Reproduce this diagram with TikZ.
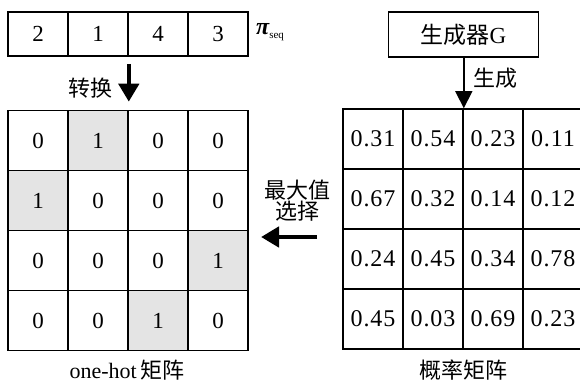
\documentclass[tikz,border=0pt]{standalone}
\usepackage{fontspec}
\setmainfont{Liberation Serif}
\newfontfamily\cjk{Noto Sans CJK SC}
\newfontfamily\numfont[LetterSpace=4]{Liberation Serif}
\usetikzlibrary{arrows.meta,calc}
\definecolor{hot}{HTML}{E4E4E4}
\tikzset{
  box/.style={draw, line width=1.6pt, inner sep=0pt, anchor=center},
  lcell/.style={box, minimum width=60pt, minimum height=60pt, font=\fontsize{23}{23}\selectfont},
  rcell/.style={box, minimum width=60pt, minimum height=60pt, font=\numfont\fontsize{24}{24}\selectfont},
  tcell/.style={box, minimum width=60pt, minimum height=44pt, font=\fontsize{23}{23}\selectfont},
  lbl/.style={inner sep=0pt, font=\fontsize{22}{23}\selectfont\cjk},
  fat/.style={line width=4.5pt, -{Triangle[width=20pt,length=18pt]}},
  thin/.style={line width=1.6pt, -{Triangle[width=17pt,length=17pt]}}
}
\begin{document}
\begin{tikzpicture}[x=1pt,y=-1pt]
\useasboundingbox (0,0) rectangle (580,385);
\fill[white] (0,0) rectangle (580,385);
% top sequence
\foreach \c/\v in {1/2,2/1,3/4,4/3}
  \node[tcell] (t\c) at ({38+60*(\c-1)},34) {\v};
\node[anchor=west, inner sep=0pt] (pi) at (256,32) {{\fontsize{24}{24}\selectfont\bfseries\itshape π}\raisebox{-4pt}{\fontsize{11}{11}\selectfont seq}};
% left one-hot matrix
\foreach \r/\c/\v/\f in {1/1/0/white,1/2/1/hot,1/3/0/white,1/4/0/white,
                         2/1/1/hot,2/2/0/white,2/3/0/white,2/4/0/white,
                         3/1/0/white,3/2/0/white,3/3/0/white,3/4/1/hot,
                         4/1/0/white,4/2/0/white,4/3/1/hot,4/4/0/white}
  \node[lcell, fill=\f] (l\r\c) at ({38+60*(\c-1)},{140.5+60*(\r-1)}) {\v};
% right probability matrix
\foreach \r/\c/\v in {1/1/0.31,1/2/0.54,1/3/0.23,1/4/0.11,
                      2/1/0.67,2/2/0.32,2/3/0.14,2/4/0.12,
                      3/1/0.24,3/2/0.45,3/3/0.34,3/4/0.78,
                      4/1/0.45,4/2/0.03,4/3/0.69,4/4/0.23}
  \node[rcell] (p\r\c) at ({373+60*(\c-1)},{139+60*(\r-1)}) {\v};
% generator
\node[box, minimum width=150pt, minimum height=45pt, font=\fontsize{23}{23}\selectfont] (gen) at (463.5,34.5) {{\cjk 生成器}G};
% connectors
\coordinate (tArrowStart) at ($(t2.south east)+(0,7)$);
\coordinate (tArrowEnd) at ($(l12.north east)+(0,-8)$);
\draw[fat] (tArrowStart) -- (tArrowEnd);
\draw[thin] (gen.south -| p12.north east) -- (p12.north east);
\coordinate (selStart) at (317,237);
\coordinate (selEnd) at (261,237);
\draw[fat] (selStart) -- (selEnd);
% labels
\node[lbl] (zh) at (90,88) {转换};
\node[lbl] (sc) at (495,78) {生成};
\node[lbl, align=center] (sel) at (297,201) {最大值\\[-2pt]选择};
\node[inner sep=0pt, font=\fontsize{22}{22}\selectfont] (oh) at (127,370) {one-hot\,{\cjk 矩阵}};
\node[lbl] (gl) at (463,370) {概率矩阵};
\end{tikzpicture}
\end{document}
